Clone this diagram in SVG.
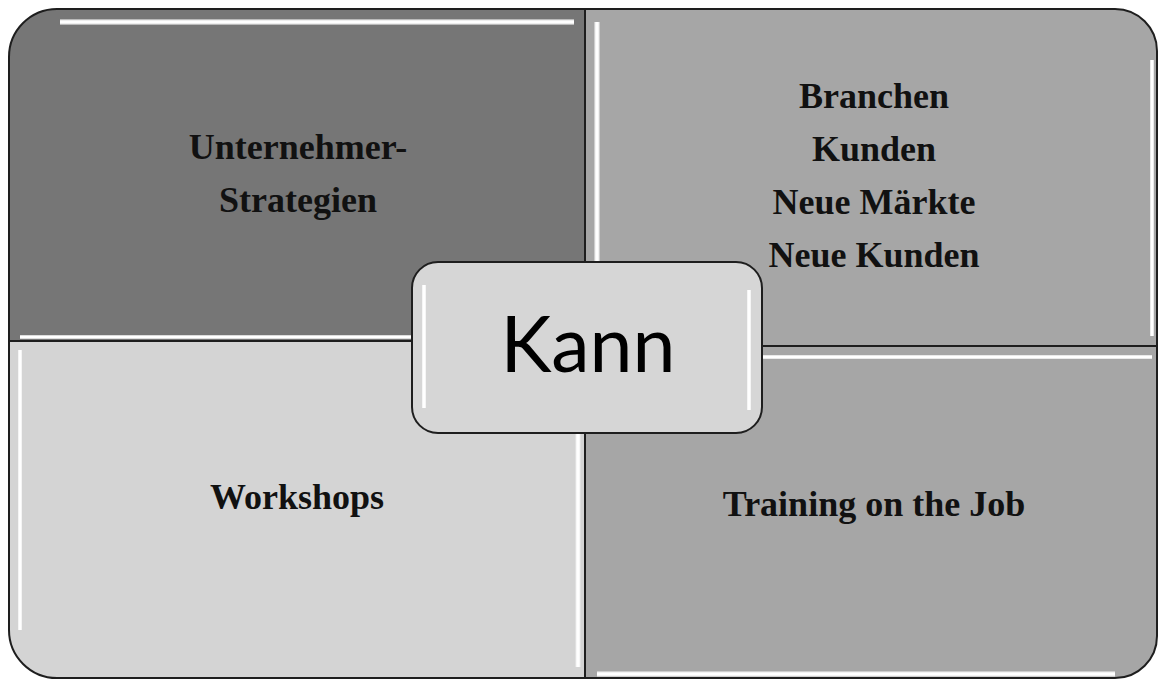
<svg xmlns="http://www.w3.org/2000/svg" width="1158" height="680" viewBox="0 0 1158 680">
<style>
.q{stroke:#1e1e1e;stroke-width:2;}
.hl{stroke:#ffffff;stroke-width:3.5;fill:none;stroke-linecap:butt;}
.hs{stroke:#e8e8e8;stroke-width:6;fill:none;opacity:0.6;}
.lbl{font-family:"Liberation Serif","Times New Roman",serif;font-weight:bold;font-size:36px;fill:#111;text-anchor:middle;}
.kann{font-family:Lato,"Noto Sans",sans-serif;font-size:77px;fill:#000;text-anchor:middle;}
</style>
<rect width="1158" height="680" fill="#ffffff"/>
<g id="q-tl">
<path class="q" d="M9,341 V57 A48,48 0 0 1 57,9 H585 V341 Z" fill="#767676"/>
<path class="hs" d="M60,22 H574"/>
<path class="hl" d="M60,22 H574"/>
<path class="hl" d="M20,337 H420"/>
<text class="lbl" x="298" y="159">Unternehmer-</text>
<text class="lbl" x="298" y="212">Strategien</text>
</g>
<g id="q-tr">
<path class="q" d="M585,9 H1115 A42,42 0 0 1 1157,51 V346 H585 Z" fill="#a6a6a6"/>
<path class="hs" d="M597,22 V262"/>
<path class="hl" d="M597,22 V262"/>
<path class="hl" d="M1152,60 V336"/>
<text class="lbl" x="874" y="108">Branchen</text>
<text class="lbl" x="874" y="161">Kunden</text>
<text class="lbl" x="874" y="214">Neue Märkte</text>
<text class="lbl" x="874" y="267">Neue Kunden</text>
</g>
<g id="q-bl">
<path class="q" d="M9,341 H585 V678 H57 A48,48 0 0 1 9,630 Z" fill="#d4d4d4"/>
<path class="hl" d="M20,350 V630"/>
<path class="hs" d="M578,433 V667"/>
<path class="hl" d="M578,433 V667"/>
<text class="lbl" x="297" y="509">Workshops</text>
</g>
<g id="q-br">
<path class="q" d="M585,346 H1157 V636 A42,42 0 0 1 1115,678 H585 Z" fill="#a6a6a6"/>
<path class="hl" d="M762,357 H1152"/>
<path class="hs" d="M597,674 H1115"/>
<path class="hl" d="M597,674 H1115"/>
<text class="lbl" x="874" y="516">Training on the Job</text>
</g>
<g id="center">
<rect x="412" y="262" width="350" height="171" rx="26" ry="26" fill="#d6d6d6" stroke="#1e1e1e" stroke-width="2"/>
<path class="hl" d="M424,285 V408"/>
<path class="hl" d="M749,290 V410"/>
<text class="kann" x="588" y="372">Kann</text>
</g>
<g id="connectors"></g>
</svg>
